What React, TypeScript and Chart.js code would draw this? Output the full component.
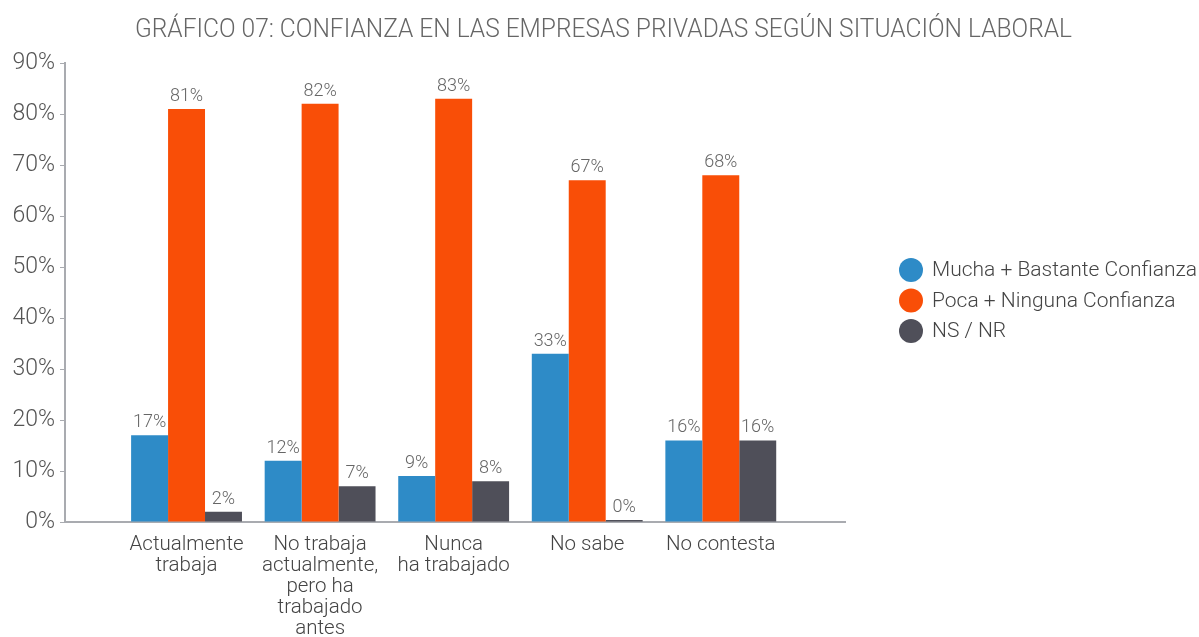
import React, { useEffect, useRef } from "react";
import { Chart, registerables } from "chart.js";

Chart.register(...registerables);

const titleText = "GRÁFICO 07: CONFIANZA EN LAS EMPRESAS PRIVADAS SEGÚN SITUACIÓN LABORAL";
const categories: string[][] = [
  ["Actualmente", "trabaja"],
  ["No trabaja", "actualmente,", "pero ha", "trabajado", "antes"],
  ["Nunca", "ha trabajado"],
  ["No sabe"],
  ["No contesta"],
];
const seriesNames = [
  "Mucha + Bastante Confianza",
  "Poca + Ninguna Confianza",
  "NS / NR",
];
const mucha = [17, 12, 9, 33, 16];
const poca = [81, 82, 83, 67, 68];
const nsnr = [2, 7, 8, 0.4, 16];
const colors = ["#2e8bc7", "#f94e07", "#4f4f59"];
const yTicks = [0, 10, 20, 30, 40, 50, 60, 70, 80, 90];

const FONT = "Roboto";

const toPoints = (arr: number[]) => arr.map((v, i) => ({ x: i, y: v }));

const titlePlugin = {
  id: "titlePlugin",
  afterDraw(chart: any) {
    const ctx = chart.ctx;
    ctx.save();
    ctx.font = `300 26px ${FONT}`;
    ctx.fillStyle = "#666666";
    ctx.textBaseline = "alphabetic";
    ctx.textAlign = "left";
    const w = ctx.measureText(titleText).width;
    const target = 937;
    const sx = target / w;
    ctx.translate(135, 37);
    ctx.scale(sx, 1);
    ctx.fillText(titleText, 0, 0);
    ctx.restore();
  },
};

const valueLabels = {
  id: "valueLabels",
  afterDatasetsDraw(chart: any) {
    const ctx = chart.ctx;
    ctx.save();
    ctx.font = `300 18px ${FONT}`;
    ctx.fillStyle = "#666666";
    ctx.textAlign = "center";
    ctx.textBaseline = "alphabetic";
    chart.data.datasets.forEach((ds: any, di: number) => {
      const meta = chart.getDatasetMeta(di);
      meta.data.forEach((el: any, i: number) => {
        const v = ds.data[i].y;
        ctx.fillText(Math.round(v) + "%", el.x, el.y - 8);
      });
    });
    ctx.restore();
  },
};

const customLegend = {
  id: "customLegend",
  afterDraw(chart: any) {
    const ctx = chart.ctx;
    const x0 = chart.chartArea.right + 66;
    const yStart = 270;
    ctx.save();
    ctx.font = `300 21px ${FONT}`;
    ctx.textBaseline = "middle";
    ctx.textAlign = "left";
    chart.data.datasets.forEach((ds: any, i: number) => {
      const y = yStart + i * 30.5;
      ctx.beginPath();
      ctx.arc(x0, y, 12, 0, Math.PI * 2);
      ctx.fillStyle = ds.backgroundColor;
      ctx.fill();
      ctx.fillStyle = "#444444";
      ctx.fillText(ds.label, x0 + 21, y + 1);
    });
    ctx.restore();
  },
};

export default function App() {
  const ref = useRef<HTMLCanvasElement | null>(null);
  useEffect(() => {
    document.body.style.margin = "0";
    const canvas = ref.current!;
    const chart = new Chart(canvas, {
      type: "bar",
      data: {
        datasets: [
          { label: seriesNames[0], data: toPoints(mucha), backgroundColor: colors[0] },
          { label: seriesNames[1], data: toPoints(poca), backgroundColor: colors[1] },
          { label: seriesNames[2], data: toPoints(nsnr), backgroundColor: colors[2] },
        ] as any,
      },
      options: {
        animation: false,
        responsive: false,
        layout: { padding: { left: 0, right: 354, top: 63, bottom: 0 } },
        datasets: { bar: { barPercentage: 1, categoryPercentage: 0.83 } } as any,
        plugins: {
          legend: { display: false },
          tooltip: { enabled: false },
          title: { display: false },
        },
        scales: {
          x: {
            type: "linear",
            offset: false,
            min: -0.91,
            max: 4.93,
            afterBuildTicks: (scale: any) => {
              scale.ticks = categories.map((_, i) => ({ value: i }));
            },
            afterFit: (scale: any) => {
              scale.height = 115;
            },
            ticks: {
              autoSkip: false,
              maxRotation: 0,
              color: "#444444",
              padding: 12,
              font: { family: FONT, size: 20.5, weight: "300", lineHeight: 1.03 },
              callback: (v: any) => categories[v] ?? "",
            },
            grid: { display: false, drawTicks: false },
            border: { display: true, color: "#a9abb0", width: 2 },
          },
          y: {
            min: 0,
            max: 90,
            afterBuildTicks: (scale: any) => {
              scale.ticks = yTicks.map((v) => ({ value: v }));
            },
            afterFit: (scale: any) => {
              scale.width = 65;
            },
            ticks: {
              color: "#555555",
              padding: 5,
              font: { family: FONT, size: 23, weight: "300" },
              callback: (v: any) => v + "%",
            },
            grid: { drawOnChartArea: false, drawTicks: true, tickLength: 5, color: "#a9abb0" },
            border: { display: true, color: "#a9abb0", width: 2 },
          },
        },
      } as any,
      plugins: [valueLabels, customLegend, titlePlugin],
    });
    return () => chart.destroy();
  }, []);
  return (
    <div style={{ width: 1199, height: 637 }}>
      <canvas ref={ref} width={1199} height={637} style={{ display: "block" }} />
    </div>
  );
}
